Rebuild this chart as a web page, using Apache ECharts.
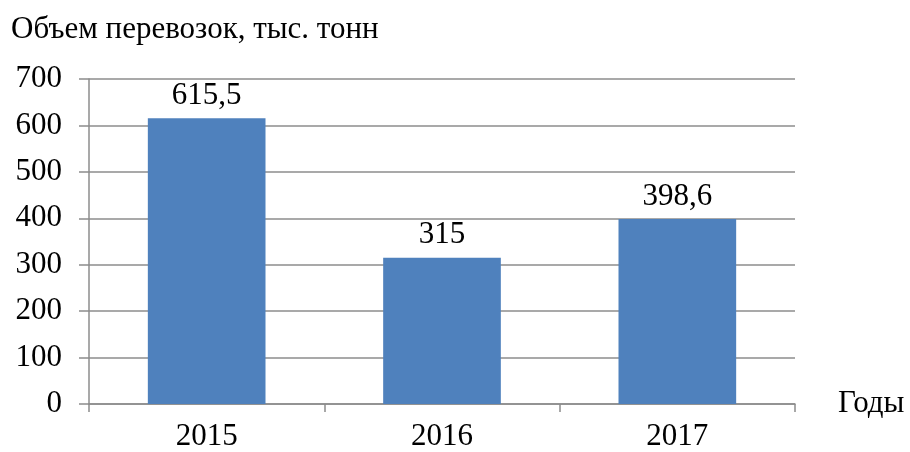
<!DOCTYPE html>
<html>
<head>
<meta charset="utf-8">
<script src="https://cdn.jsdelivr.net/npm/echarts@6/dist/echarts.min.js"></script>
<style>
  html, body { margin: 0; padding: 0; background: #fff; }
  #chart { width: 910px; height: 452px; }
</style>
</head>
<body>
<div id="chart"></div>
<script>
// данные
const years = ['2015', '2016', '2017'];
const volumes = [615.5, 315, 398.6];
const yTicks = [0, 100, 200, 300, 400, 500, 600, 700];

const serif = '"Liberation Serif", "Times New Roman", serif';
const gridColor = '#8c8c8c';

let myChart = echarts.init(document.getElementById('chart'));
let option = {
  animation: false,
  backgroundColor: '#fff',
  title: {
    text: 'Объем перевозок, тыс. тонн',
    left: 6,
    top: 9,
    textStyle: { fontFamily: serif, fontSize: 31, fontWeight: 'normal', color: '#000' }
  },
  grid: { left: 89, right: 115, top: 79, bottom: 48, containLabel: false },
  xAxis: {
    type: 'category',
    data: years,
    name: 'Годы',
    nameLocation: 'end',
    nameGap: 43,
    nameTextStyle: { fontFamily: serif, fontSize: 31, color: '#000', verticalAlign: 'middle', padding: [0, 0, 8, 0] },
    axisLine: { lineStyle: { color: gridColor, width: 1.5 } },
    axisTick: { show: true, alignWithLabel: false, length: 8, lineStyle: { color: gridColor, width: 1.5 } },
    axisLabel: { fontFamily: serif, fontSize: 31, color: '#000', margin: 17 }
  },
  yAxis: {
    type: 'value',
    min: yTicks[0],
    max: yTicks[yTicks.length - 1],
    interval: 100,
    axisLine: { show: true, lineStyle: { color: gridColor, width: 1.5 } },
    axisTick: { show: true, inside: false, length: 10, lineStyle: { color: gridColor, width: 1.5 } },
    axisLabel: { fontFamily: serif, fontSize: 31, color: '#000', margin: 27 },
    splitLine: { lineStyle: { color: gridColor, width: 1.5 } }
  },
  series: [
    {
      type: 'bar',
      data: volumes,
      barWidth: '50%',
      itemStyle: { color: '#4f81bd' },
      label: {
        show: true,
        position: 'top',
        distance: 7,
        fontFamily: serif,
        fontSize: 31,
        color: '#000',
        formatter: function (p) { return String(p.value).replace('.', ','); }
      }
    }
  ]
};
option && myChart.setOption(option);
</script>
</body>
</html>
